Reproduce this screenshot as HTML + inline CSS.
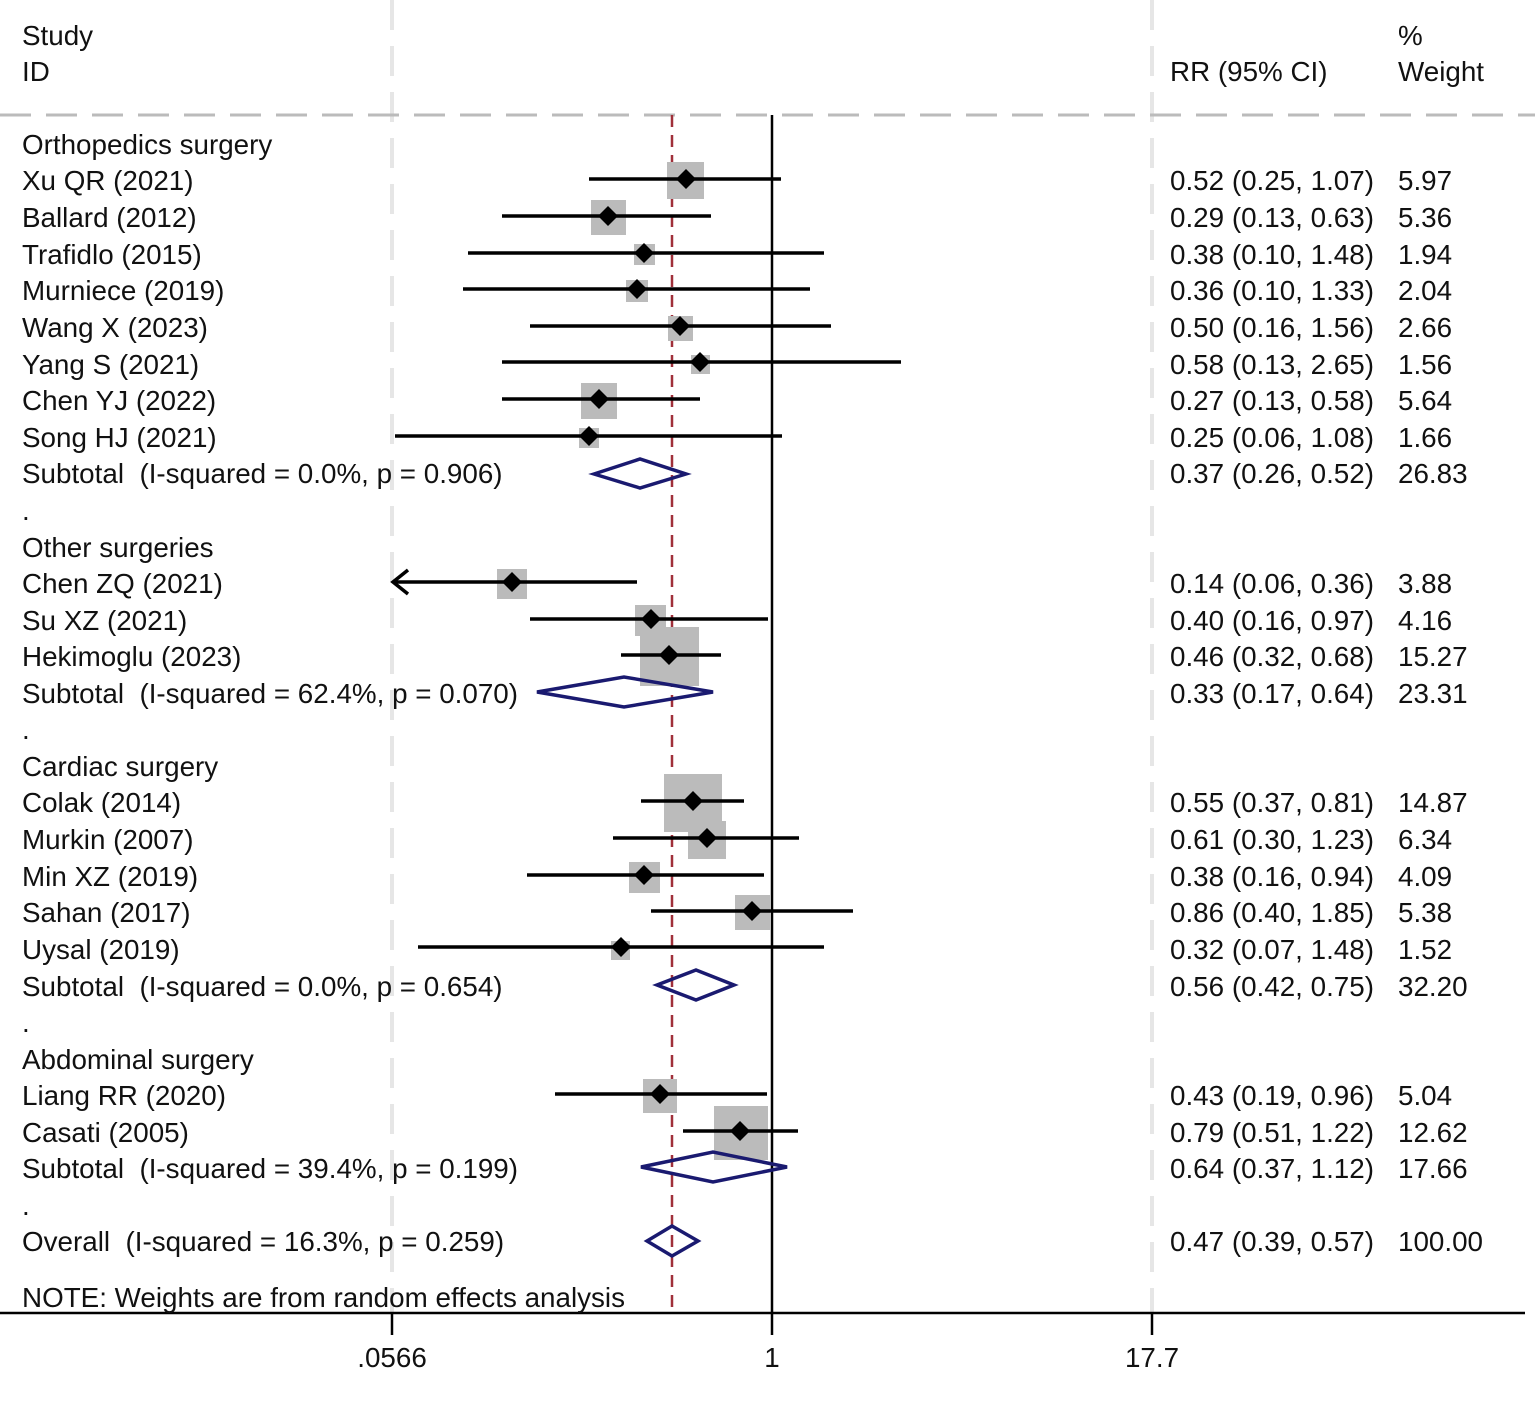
<!DOCTYPE html><html><head><style>body{margin:0;background:#fff}svg{display:block}text{font-family:"Liberation Sans",Arial,sans-serif;font-size:27.8px;fill:#111}</style></head><body>
<svg width="1535" height="1425" xmlns="http://www.w3.org/2000/svg">
<g stroke="#e6e6e6" stroke-width="4" stroke-dasharray="30 16"><line x1="392" y1="0" x2="392" y2="1313"/><line x1="1152" y1="0" x2="1152" y2="1313"/></g>
<line x1="0" y1="115" x2="1535" y2="115" stroke="#bbb" stroke-width="3" stroke-dasharray="31 15"/>
<line x1="772" y1="115" x2="772" y2="1313" stroke="#000" stroke-width="2.5"/>
<line x1="672" y1="115" x2="672" y2="1313" stroke="#a0303a" stroke-width="2.5" stroke-dasharray="12 8"/>
<line x1="0" y1="1313" x2="1525" y2="1313" stroke="#000" stroke-width="2.5"/>
<g stroke="#000" stroke-width="2.5"><line x1="392" y1="1313" x2="392" y2="1335"/><line x1="772" y1="1313" x2="772" y2="1335"/><line x1="1152" y1="1313" x2="1152" y2="1335"/></g>
<text x="392" y="1367" text-anchor="middle">.0566</text><text x="772" y="1367" text-anchor="middle">1</text><text x="1152" y="1367" text-anchor="middle">17.7</text>
<g fill="#bbb">
<rect x="667" y="162" width="37" height="37"/><rect x="591" y="200" width="35" height="35"/><rect x="634" y="244" width="21" height="21"/><rect x="626" y="280" width="22" height="22"/><rect x="668" y="316" width="25" height="25"/><rect x="691" y="355" width="19" height="19"/><rect x="581" y="383" width="36" height="36"/><rect x="579" y="428" width="20" height="20"/>
<rect x="497" y="569" width="30" height="30"/><rect x="635" y="605" width="31" height="31"/><rect x="640" y="627" width="59" height="59"/>
<rect x="664" y="774" width="58" height="58"/><rect x="688" y="821" width="38" height="38"/><rect x="629" y="862" width="31" height="31"/><rect x="735" y="895" width="35" height="35"/><rect x="611" y="941" width="19" height="19"/>
<rect x="643" y="1079" width="34" height="34"/><rect x="714" y="1106" width="54" height="54"/></g>
<g stroke="#000" stroke-width="3.5">
<line x1="589" y1="179" x2="781" y2="179"/><line x1="502" y1="216" x2="711" y2="216"/><line x1="468" y1="253" x2="824" y2="253"/><line x1="463" y1="289" x2="810" y2="289"/><line x1="530" y1="326" x2="831" y2="326"/><line x1="502" y1="362" x2="901" y2="362"/><line x1="502" y1="399" x2="700" y2="399"/><line x1="395" y1="436" x2="782" y2="436"/>
<line x1="395" y1="582" x2="637" y2="582"/><line x1="530" y1="619" x2="768" y2="619"/><line x1="621" y1="655" x2="721" y2="655"/>
<line x1="641" y1="801" x2="744" y2="801"/><line x1="613" y1="838" x2="799" y2="838"/><line x1="527" y1="875" x2="764" y2="875"/><line x1="651" y1="911" x2="853" y2="911"/><line x1="418" y1="947" x2="824" y2="947"/>
<line x1="555" y1="1094" x2="767" y2="1094"/><line x1="683" y1="1131" x2="798" y2="1131"/>
<polyline points="408,570 393,582 408,594" fill="none"/></g>
<g fill="#000">
<path d="M686 169l10 10-10 10-10-10z"/><path d="M608 206l10 10-10 10-10-10z"/><path d="M644 243l10 10-10 10-10-10z"/><path d="M637 279l10 10-10 10-10-10z"/><path d="M680 316l10 10-10 10-10-10z"/><path d="M700 352l10 10-10 10-10-10z"/><path d="M599 389l10 10-10 10-10-10z"/><path d="M589 426l10 10-10 10-10-10z"/>
<path d="M512 572l10 10-10 10-10-10z"/><path d="M651 609l10 10-10 10-10-10z"/><path d="M669 645l10 10-10 10-10-10z"/>
<path d="M693 791l10 10-10 10-10-10z"/><path d="M707 828l10 10-10 10-10-10z"/><path d="M644 865l10 10-10 10-10-10z"/><path d="M752 901l10 10-10 10-10-10z"/><path d="M621 937l10 10-10 10-10-10z"/>
<path d="M660 1084l10 10-10 10-10-10z"/><path d="M740 1121l10 10-10 10-10-10z"/></g>
<g fill="none" stroke="#1a1a70" stroke-width="3.5">
<polygon points="594,474 640,459 686,474 640,488"/><polygon points="537,692 624,677 713,692 624,707"/><polygon points="657,985 696,970 734,985 696,1000"/><polygon points="641,1167 713,1152 787,1167 713,1182"/><polygon points="647,1241 672,1226 698,1241 672,1256"/></g>
<g>
<text x="22" y="45">Study</text><text x="22" y="81">ID</text><text x="1170" y="81">RR (95% CI)</text><text x="1398" y="45">%</text><text x="1398" y="81">Weight</text>
<text x="22" y="154">Orthopedics surgery</text>
<text x="22" y="190">Xu QR (2021)</text><text x="22" y="227">Ballard (2012)</text><text x="22" y="264">Trafidlo (2015)</text><text x="22" y="300">Murniece (2019)</text><text x="22" y="337">Wang X (2023)</text><text x="22" y="374">Yang S (2021)</text><text x="22" y="410">Chen YJ (2022)</text><text x="22" y="447">Song HJ (2021)</text>
<text x="22" y="483" xml:space="preserve">Subtotal  (I-squared = 0.0%, p = 0.906)</text><text x="22" y="520">.</text>
<text x="22" y="557">Other surgeries</text><text x="22" y="593">Chen ZQ (2021)</text><text x="22" y="630">Su XZ (2021)</text><text x="22" y="666">Hekimoglu (2023)</text>
<text x="22" y="703" xml:space="preserve">Subtotal  (I-squared = 62.4%, p = 0.070)</text><text x="22" y="739">.</text>
<text x="22" y="776">Cardiac surgery</text><text x="22" y="812">Colak (2014)</text><text x="22" y="849">Murkin (2007)</text><text x="22" y="886">Min XZ (2019)</text><text x="22" y="922">Sahan (2017)</text><text x="22" y="959">Uysal (2019)</text>
<text x="22" y="996" xml:space="preserve">Subtotal  (I-squared = 0.0%, p = 0.654)</text><text x="22" y="1032">.</text>
<text x="22" y="1069">Abdominal surgery</text><text x="22" y="1105">Liang RR (2020)</text><text x="22" y="1142">Casati (2005)</text>
<text x="22" y="1178" xml:space="preserve">Subtotal  (I-squared = 39.4%, p = 0.199)</text><text x="22" y="1215">.</text>
<text x="22" y="1251" xml:space="preserve">Overall  (I-squared = 16.3%, p = 0.259)</text>
<text x="22" y="1307">NOTE: Weights are from random effects analysis</text>
</g>
<g>
<text x="1170" y="190">0.52 (0.25, 1.07)</text><text x="1398" y="190">5.97</text>
<text x="1170" y="227">0.29 (0.13, 0.63)</text><text x="1398" y="227">5.36</text>
<text x="1170" y="264">0.38 (0.10, 1.48)</text><text x="1398" y="264">1.94</text>
<text x="1170" y="300">0.36 (0.10, 1.33)</text><text x="1398" y="300">2.04</text>
<text x="1170" y="337">0.50 (0.16, 1.56)</text><text x="1398" y="337">2.66</text>
<text x="1170" y="374">0.58 (0.13, 2.65)</text><text x="1398" y="374">1.56</text>
<text x="1170" y="410">0.27 (0.13, 0.58)</text><text x="1398" y="410">5.64</text>
<text x="1170" y="447">0.25 (0.06, 1.08)</text><text x="1398" y="447">1.66</text>
<text x="1170" y="483">0.37 (0.26, 0.52)</text><text x="1398" y="483">26.83</text>
<text x="1170" y="593">0.14 (0.06, 0.36)</text><text x="1398" y="593">3.88</text>
<text x="1170" y="630">0.40 (0.16, 0.97)</text><text x="1398" y="630">4.16</text>
<text x="1170" y="666">0.46 (0.32, 0.68)</text><text x="1398" y="666">15.27</text>
<text x="1170" y="703">0.33 (0.17, 0.64)</text><text x="1398" y="703">23.31</text>
<text x="1170" y="812">0.55 (0.37, 0.81)</text><text x="1398" y="812">14.87</text>
<text x="1170" y="849">0.61 (0.30, 1.23)</text><text x="1398" y="849">6.34</text>
<text x="1170" y="886">0.38 (0.16, 0.94)</text><text x="1398" y="886">4.09</text>
<text x="1170" y="922">0.86 (0.40, 1.85)</text><text x="1398" y="922">5.38</text>
<text x="1170" y="959">0.32 (0.07, 1.48)</text><text x="1398" y="959">1.52</text>
<text x="1170" y="996">0.56 (0.42, 0.75)</text><text x="1398" y="996">32.20</text>
<text x="1170" y="1105">0.43 (0.19, 0.96)</text><text x="1398" y="1105">5.04</text>
<text x="1170" y="1142">0.79 (0.51, 1.22)</text><text x="1398" y="1142">12.62</text>
<text x="1170" y="1178">0.64 (0.37, 1.12)</text><text x="1398" y="1178">17.66</text>
<text x="1170" y="1251">0.47 (0.39, 0.57)</text><text x="1398" y="1251">100.00</text>
</g>
</svg></body></html>
